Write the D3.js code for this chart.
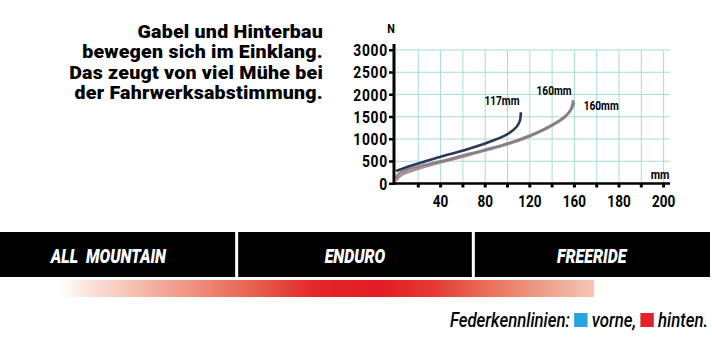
<!DOCTYPE html>
<html>
<head>
<meta charset="utf-8">
<script src="https://cdn.jsdelivr.net/npm/d3@7"></script>
<style>
  body { margin:0; background:#fff; }
  svg { display:block; }
</style>
</head>
<body>
<script>
// chart values
const headline = ["Gabel und Hinterbau", "bewegen sich im Einklang.", "Das zeugt von viel Mühe bei", "der Fahrwerksabstimmung."];
const yTicks = [0, 500, 1000, 1500, 2000, 2500, 3000];
const xGrid = [20, 40, 60, 80, 100, 120, 140, 160, 180, 200, 220, 240];
const xLabelAt = [40, 80, 120, 160, 200, 240];
const xLabelText = ["40", "80", "120", "160", "180", "200"];   // printed labels (as in the original)

// travel in mm, force in N
const curve117 = [[0,280],[10,370],[20,450],[40,600],[60,740],[80,900],[100,1110],[108,1270],[111,1400],[112,1600]];
const curve160a = [[0,120],[3,230],[20,380],[40,500],[60,630],[80,760],[100,900],[120,1080],[140,1320],[152,1520],[157,1680],[159,1880]];
const curve160b = [[0,60],[5,190],[20,330],[40,470],[60,600],[80,740],[100,880],[120,1060],[140,1300],[152,1500],[157,1650],[160,1820]];
const curveLabels = ["117mm", "160mm", "160mm"];
const curveLabelAt = [[95,1764], [141.7,1990], [184,1652]];

const categories = ["ALL  MOUNTAIN", "ENDURO", "FREERIDE"];
const legendItems = [{name:"vorne,", color:"#27a5df"}, {name:"hinten.", color:"#e4202a"}];

const W = 712, H = 355;
const svg = d3.select("body").append("svg").attr("width", W).attr("height", H);

const cond = "Roboto, 'DejaVu Sans', sans-serif";

//headline, right aligned
headline.forEach((t, i) => {
  svg.append("g")
    .attr("transform", `translate(323,${37.5 + i*20.5}) scale(1.12,1)`)
    .append("text")
    .attr("text-anchor", "end")
    .style("font-family", cond).style("font-weight", "900").style("font-size", "17.5px")
    .style("letter-spacing", "0.2px")
    .text(t);
});

//scales
const x = d3.scaleLinear().domain([0, 240]).range([396, 663.6]);
const y = d3.scaleLinear().domain([0, 3000]).range([183.5, 50]);
const xEnd = 670;

const grid = svg.append("g").attr("stroke", "#a6ded2").attr("stroke-width", 1);
grid.selectAll(".v").data(xGrid).enter().append("line")
  .attr("x1", d => x(d)).attr("x2", d => x(d))
  .attr("y1", y(3000)).attr("y2", y(0));
grid.selectAll(".h").data(yTicks.filter(d => d > 0)).enter().append("line")
  .attr("x1", x(0)).attr("x2", xEnd)
  .attr("y1", d => y(d)).attr("y2", d => y(d));

//curves
const line = d3.line().x(d => x(d[0])).y(d => y(d[1])).curve(d3.curveCatmullRom.alpha(0.5));
svg.append("path").datum(curve160b).attr("d", line)
  .attr("fill", "none").attr("stroke", "#a8767a").attr("stroke-width", 2.4).attr("opacity", 0.85);
svg.append("path").datum(curve160a).attr("d", line)
  .attr("fill", "none").attr("stroke", "#7d7b86").attr("stroke-width", 2.6).attr("opacity", 0.9);
svg.append("path").datum(curve117).attr("d", line)
  .attr("fill", "none").attr("stroke", "#2d3654").attr("stroke-width", 2.6);

//curve labels
curveLabels.forEach((t, i) => {
  svg.append("g")
    .attr("transform", `translate(${x(curveLabelAt[i][0])},${y(curveLabelAt[i][1])}) scale(0.78,1)`)
    .append("text").attr("text-anchor", "middle")
    .style("font-family", cond).style("font-weight", "700").style("font-size", "13px")
    .text(t);
});

//axes
svg.append("line").attr("x1", 394).attr("x2", 394).attr("y1", 44).attr("y2", y(0) + 1.5)
  .attr("stroke", "#000").attr("stroke-width", 3);
svg.append("line").attr("x1", 393).attr("x2", xEnd).attr("y1", y(0)).attr("y2", y(0))
  .attr("stroke", "#000").attr("stroke-width", 2.5);

svg.selectAll(".xt").data(xGrid).enter().append("rect")
  .attr("x", d => x(d) - 1.5).attr("y", y(0)).attr("width", 3).attr("height", 4).attr("fill", "#000");
svg.selectAll(".yt").data(yTicks).enter().append("rect")
  .attr("x", 389).attr("y", d => y(d) - 1).attr("width", 5).attr("height", 2.5).attr("fill", "#000");

svg.selectAll(".yl").data(yTicks).enter().append("g")
  .attr("transform", d => `translate(388,${y(d) + 6}) scale(0.84,1)`)
  .append("text").attr("text-anchor", "end")
  .style("font-family", cond).style("font-weight", "700").style("font-size", "16.5px")
  .style("letter-spacing", "0.9px")
  .text(d => d);

svg.selectAll(".xl").data(xLabelAt).enter().append("g")
  .attr("transform", d => `translate(${x(d)},${207}) scale(0.82,1)`)
  .append("text").attr("text-anchor", "middle")
  .style("font-family", cond).style("font-weight", "700").style("font-size", "16.5px")
  .text((d, i) => xLabelText[i]);

svg.append("g").attr("transform", "translate(391,33) scale(0.9,1)")
  .append("text").attr("text-anchor", "middle")
  .style("font-family", cond).style("font-weight", "700").style("font-size", "12px").text("N");
svg.append("g").attr("transform", `translate(660,${y(0) - 5}) scale(0.9,1)`)
  .append("text").attr("text-anchor", "middle")
  .style("font-family", cond).style("font-weight", "700").style("font-size", "12px").text("mm");

//category band
const band = d3.scaleBand().domain(categories).range([0, 710]).paddingInner(0);
svg.append("rect").attr("x", 0).attr("y", 232).attr("width", 710).attr("height", 45).attr("fill", "#000");
svg.selectAll(".sep").data(categories.slice(1)).enter().append("rect")
  .attr("x", d => band(d) - 1.5).attr("y", 232).attr("width", 3).attr("height", 46)
  .attr("fill", "#fff");
svg.selectAll(".cat").data(categories).enter().append("g")
  .attr("transform", d => `translate(${band(d) + band.bandwidth()/2 - (d === categories[0] ? 10 : 0)},263) scale(0.76,1)`)
  .append("text").attr("text-anchor", "middle").attr("xml:space", "preserve")
  .style("white-space", "pre")
  .style("font-family", cond).style("font-weight", "900").style("font-style", "italic")
  .style("font-size", "21px").attr("fill", "#fff")
  .text(d => d);

//red gradient
const defs = svg.append("defs");
const grad = defs.append("linearGradient").attr("id", "rg").attr("x1", "0%").attr("x2", "100%");
const stops = [[0, "#ffffff"], [0.06, "#fbe0d8"], [0.2, "#f2a594"], [0.36, "#e8614f"], [0.48, "#e3262a"], [0.6, "#e31b24"], [0.7, "#e43a33"], [0.82, "#eb7862"], [0.93, "#f0a994"], [1, "#f5c6b6"]];
stops.forEach(s => grad.append("stop").attr("offset", s[0]).attr("stop-color", s[1]));
svg.append("rect").attr("x", 60).attr("y", 280).attr("width", 534).attr("height", 17).attr("fill", "url(#rg)");

//legend, laid out right to left
const lg = svg.append("g").attr("transform", "translate(708,327) scale(0.84,1)");
const parts = [{t:"Federkennlinien:"}, {c:legendItems[0].color}, {t:legendItems[0].name}, {c:legendItems[1].color}, {t:legendItems[1].name}];
const fs = "20px";
const widths = [];
const tmp = lg.append("text").style("font-family", cond).style("font-style", "italic").style("font-size", fs).style("font-weight", "500");
parts.forEach(p => {
  if (p.t) { tmp.text(p.t); widths.push(tmp.node().getComputedTextLength()); }
  else widths.push(16);
});
tmp.remove();
const gap = 5;
let cx = -(d3.sum(widths) + gap * (parts.length - 1));
parts.forEach((p, i) => {
  if (p.t) {
    lg.append("text").attr("x", cx)
      .style("font-family", cond).style("font-style", "italic").style("font-size", fs).style("font-weight", "500")
      .text(p.t);
  } else {
    lg.append("rect").attr("x", cx).attr("y", -14).attr("width", 16).attr("height", 14).attr("fill", p.c);
  }
  cx += widths[i] + gap;
});
</script>
</body>
</html>
